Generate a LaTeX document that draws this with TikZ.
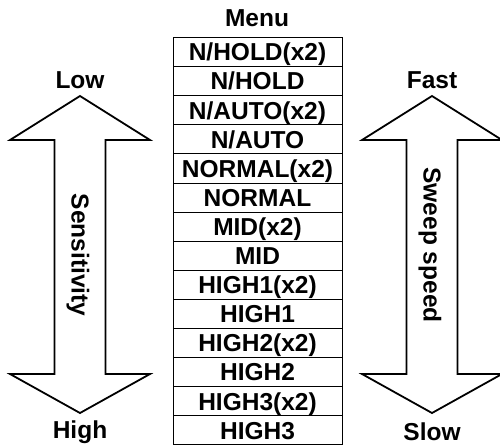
\documentclass[tikz,border=0pt]{standalone}
\usepackage{fontspec}
\setmainfont{Liberation Sans}
\usetikzlibrary{arrows}

\begin{document}
\begin{tikzpicture}[x=1pt,y=-1pt,
    every node/.style={font=\fontsize{24.5}{29}\selectfont\bfseries},
    menurow/.style={draw,line width=0.9pt,minimum width=169pt,minimum height=29.1pt,inner sep=0pt,
        text height=17.5pt,text depth=0pt}]
    \useasboundingbox (0,0) rectangle (500,445);
    \node (menu) at (257,18) {Menu};
    \foreach \t [count=\i] in {N/HOLD(x2),N/HOLD,N/AUTO(x2),N/AUTO,NORMAL(x2),NORMAL,MID(x2),MID,HIGH1(x2),HIGH1,HIGH2(x2),HIGH2,HIGH3(x2),HIGH3}
        \node[menurow] (row\i) at (257.5,{37.5+29.1*(\i-0.5)}) {\t};
    \foreach \x/\top/\bot/\lab/\m in {80/Low/High/Sensitivity/255,432/Fast/Slow/Sweep speed/245}
      {
      \pgfmathsetmacro{\h}{70}
      \pgfmathsetmacro{\s}{25.5}
        \draw[line width=1.8pt,line join=miter] (\x,96) -- (\x-\h,140) -- (\x-\s,140) -- (\x-\s,374) -- (\x-\h,374)
            -- (\x,413) -- (\x+\h,374) -- (\x+\s,374) -- (\x+\s,140) -- (\x+\h,140) -- cycle;
        \node (top\x) at (\x,80) {\top};
        \node (bot\x) at (\x,432) {\bot};
        \node[rotate=-90] (lab\x) at (\x-2,\m) {\lab};
      };
\end{tikzpicture}
\end{document}
